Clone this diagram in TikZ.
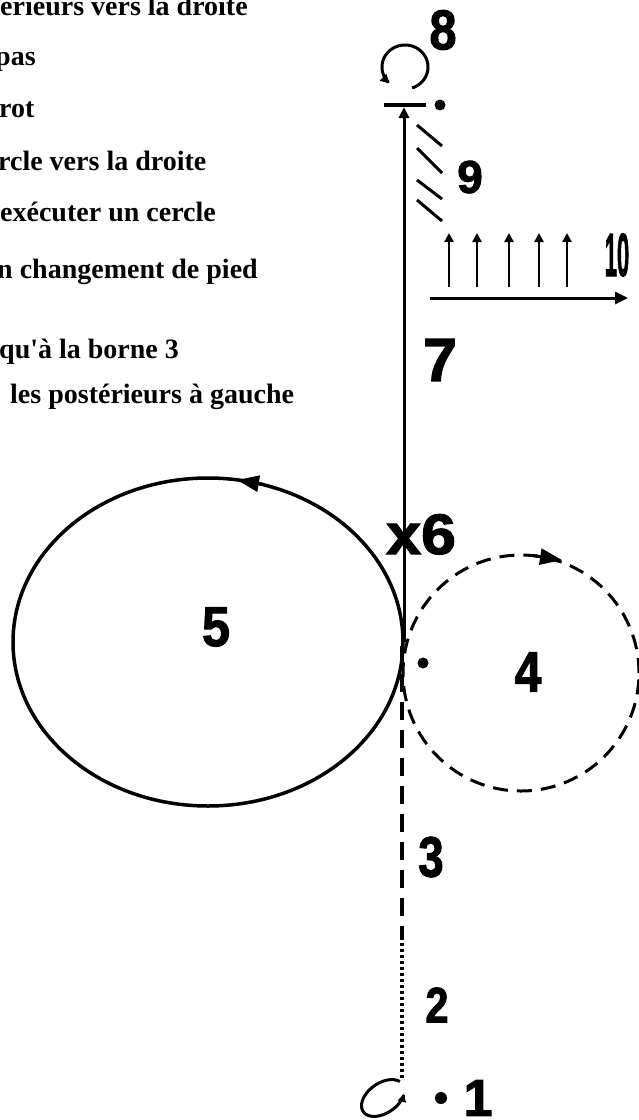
\documentclass[tikz,border=0pt]{standalone}
\usepackage{fontspec}
\usepackage{graphicx}
\setmainfont{Liberation Serif}
\newfontfamily\lblfont{Liberation Serif}[Ligatures=TeXOff]
\newfontfamily\numfont{Liberation Sans}[BoldFeatures={FakeBold=2}]
\usetikzlibrary{arrows.meta}
\tikzset{
  lbl/.style={font=\lblfont\bfseries\fontsize{28}{32}\selectfont, inner sep=0pt, anchor=base west},
  num/.style={font=\numfont\bfseries, inner sep=0pt, anchor=center},
  dotmark/.style={fill=black, circle, inner sep=0pt, minimum size=11pt},
  stroke/.style={line width=3pt, line cap=butt},
  bigtip/.style={-{Triangle[length=22pt,width=16pt]}},
  smalltip/.style={-{Triangle[length=9pt,width=9pt]}},
}
\begin{document}
\begin{tikzpicture}[x=1pt,y=-1pt]
\useasboundingbox (0,0) rectangle (639,1120);

% left texts
\node[lbl] (t1) at (0,15) {érieurs vers la droite};
\node[lbl] (t2) at (-5,65) {pas};
\node[lbl] (t3) at (-1,117) {rot};
\node[lbl] (t4) at (-2,170) {rcle vers la droite};
\node[lbl] (t5) at (0,221) {exécuter un cercle};
\node[lbl] (t6) at (-3,278) {n changement de pied};
\node[lbl] (t7) at (-1,358) {qu'à la borne 3};
\node[lbl] (t8) at (10,403) {les postérieurs à gauche};

% numbers
\node[num] (n8) at (443,30) {\fontsize{56}{56}\selectfont\scalebox{0.87}[1]{8}};
\node[num] (n9) at (470,177) {\fontsize{46}{46}\selectfont 9};
\node[num] (n10) at (617,255) {\fontsize{61}{61}\selectfont\scalebox{0.36}[1]{10}};
\node[num] (n7) at (440,360) {\fontsize{61}{61}\selectfont 7};
\node[num, anchor=base west] (n6) at (386,554) {\fontsize{57}{57}\selectfont\scalebox{1.1}[1]{x6}};
\node[num] (n4) at (528,672) {\fontsize{57}{57}\selectfont\scalebox{0.85}[1]{4}};
\node[num] (n5) at (216,627) {\fontsize{56}{56}\selectfont\scalebox{0.9}[1]{5}};
\node[num] (n3) at (431,857) {\fontsize{57}{57}\selectfont\scalebox{0.8}[1]{3}};
\node[num] (n2) at (437,1005) {\fontsize{50}{50}\selectfont\scalebox{0.83}[1]{2}};
\node[num] (n1) at (478,1098) {\fontsize{52}{52}\selectfont 1};

% dots
\node[dotmark] (d8) at (440,105) {};
\node[dotmark] (d4) at (423,663) {};
\node[dotmark, minimum size=12pt] (d1) at (441,1098) {};

% main vertical line 7 with arrow to the bar
\coordinate (tan) at (404,642);
\coordinate (top) at (404,107);
\draw[stroke, -{Triangle[length=11pt,width=10pt]}] (tan) -- (top);
\coordinate (barl) at (384,105);
\coordinate (barr) at (426,105);
\draw[line width=3.5pt] (barl) -- (barr);

% loop 8
\draw[stroke, smalltip] plot[domain=72:-228, samples=80] ({405+23*cos(\x)},{67+22*sin(\x)});

% hatch 9
\coordinate (h1a) at (417,125); \coordinate (h1b) at (442,146);
\coordinate (h2a) at (417,148); \coordinate (h2b) at (442,173);
\coordinate (h3a) at (417,180); \coordinate (h3b) at (442,199);
\coordinate (h4a) at (417,200); \coordinate (h4b) at (442,221);
\draw[stroke] (h1a) -- (h1b);
\draw[stroke] (h2a) -- (h2b);
\draw[stroke] (h3a) -- (h3b);
\draw[stroke] (h4a) -- (h4b);

% arrows 10
\foreach \i/\xx in {1/449,2/477,3/509,4/539,5/567}{
  \coordinate (ua\i) at (\xx,287);
  \coordinate (ub\i) at (\xx,233);
  \draw[line width=2.5pt, -{Triangle[length=9pt,width=9pt]}] (ua\i) -- (ub\i);
}
\coordinate (hl) at (430,298);
\coordinate (hr) at (628,298);
\draw[stroke, -{Triangle[length=13pt,width=12pt]}] (hl) -- (hr);

% circle 5
\draw[line width=3.5pt] (208,642) ellipse [x radius=195pt, y radius=164pt];
\coordinate (a5s) at (264,484.5);
\coordinate (a5e) at (237,480);
\draw[line width=3pt, bigtip] (a5s) -- (a5e);

% circle 4 (dashed)
\draw[stroke, dash pattern=on 15pt off 9pt] (521,673) circle [radius=118pt];
\coordinate (a4s) at (533,555.5);
\coordinate (a4e) at (562,560);
\draw[stroke, bigtip] (a4s) -- (a4e);

% dashed line 3 and dotted line 2
\coordinate (l3a) at (402,646);
\coordinate (l3b) at (402,940);
\coordinate (l2a) at (402,943);
\coordinate (l2b) at (402,1079);
\draw[line width=3.5pt, dash pattern=on 18pt off 10pt] (l3a) -- (l3b);
\draw[line width=3.5pt, dash pattern=on 3pt off 3pt] (l2a) -- (l2b);

% start loop 1
\draw[stroke, -{Triangle[length=8pt,width=8pt]}] plot[domain=-15:-325, samples=80]
  ({383 + 24*cos(\x)*0.82 + 15*sin(\x)*0.57}, {1098 - 24*cos(\x)*0.57 + 15*sin(\x)*0.82});
\end{tikzpicture}
\end{document}
